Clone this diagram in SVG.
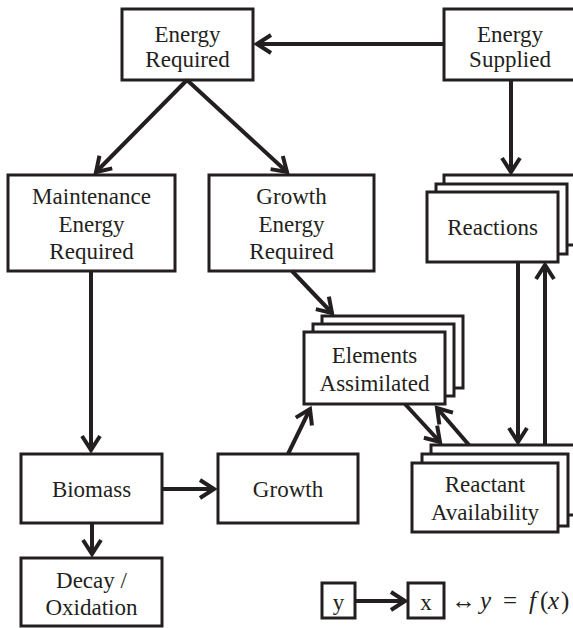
<svg xmlns="http://www.w3.org/2000/svg" width="573" height="628" viewBox="0 0 573 628">
<defs>
<style>
.box{fill:#fff;stroke:#231f20;stroke-width:3}
.t{font-family:"Liberation Serif","Times New Roman",serif;font-size:23px;fill:#231f20;text-anchor:middle}
.e{fill:none;stroke:#231f20;stroke-width:4;marker-end:url(#arr)}
.m{font-family:"Liberation Serif","DejaVu Serif",serif;font-size:25px;fill:#231f20}
</style>
<marker id="arr" markerUnits="userSpaceOnUse" markerWidth="40" markerHeight="40" viewBox="-20 -20 40 40" refX="0" refY="0" orient="auto">
<path d="M-14,-9 L0,0 L-14,9" fill="none" stroke="#231f20" stroke-width="4"/>
</marker>
</defs>
<rect width="573" height="628" fill="#fff"/>
<g id="energy-required"><rect class="box" x="122" y="9" width="131" height="71"/><text class="t" x="187.5" y="42">Energy</text><text class="t" x="187.5" y="67">Required</text></g>
<g id="energy-supplied"><rect class="box" x="444" y="9" width="132" height="71"/><text class="t" x="510" y="42">Energy</text><text class="t" x="510" y="67">Supplied</text></g>
<g id="maintenance"><rect class="box" x="8" y="175" width="167" height="96"/><text class="t" x="91.5" y="204">Maintenance</text><text class="t" x="91.5" y="232">Energy</text><text class="t" x="91.5" y="259">Required</text></g>
<g id="growth-energy"><rect class="box" x="209" y="175" width="165" height="96"/><text class="t" x="291.5" y="204">Growth</text><text class="t" x="291.5" y="232">Energy</text><text class="t" x="291.5" y="259">Required</text></g>
<g id="reactions"><rect class="box" x="444" y="175" width="131" height="70"/><rect class="box" x="436" y="184" width="131" height="70"/><rect class="box" x="427" y="192" width="131" height="70"/><text class="t" x="492.5" y="235">Reactions</text></g>
<g id="elements"><rect class="box" x="322" y="316" width="141" height="72"/><rect class="box" x="313" y="324" width="141" height="72"/><rect class="box" x="304" y="332" width="141" height="72"/><text class="t" x="374.5" y="363">Elements</text><text class="t" x="374.5" y="391">Assimilated</text></g>
<g id="reactant"><rect class="box" x="431" y="445" width="146" height="70"/><rect class="box" x="422" y="454" width="146" height="72"/><rect class="box" x="412" y="463" width="146" height="69"/><text class="t" x="485" y="492">Reactant</text><text class="t" x="485" y="520">Availability</text></g>
<g id="biomass"><rect class="box" x="21" y="454" width="141" height="69"/><text class="t" x="91.5" y="497">Biomass</text></g>
<g id="growth"><rect class="box" x="218" y="454" width="140" height="69"/><text class="t" x="288" y="497">Growth</text></g>
<g id="decay"><rect class="box" x="21" y="558" width="141" height="68"/><text class="t" x="91.5" y="588">Decay /</text><text class="t" x="91.5" y="615">Oxidation</text></g>
<g id="legend-y"><rect class="box" x="322" y="583" width="33" height="35"/><text class="t" x="338.5" y="610">y</text></g>
<g id="legend-x"><rect class="box" x="408" y="583" width="36" height="35"/><text class="t" x="426" y="610">x</text></g>
<text class="m" y="609"><tspan x="451" font-size="25">↔</tspan><tspan x="480" font-style="italic">y</tspan><tspan x="503">=</tspan><tspan x="529" font-style="italic">f</tspan><tspan x="540">(</tspan><tspan x="548" font-style="italic">x</tspan><tspan x="561">)</tspan></text>
<g id="connectors">
<line class="e" x1="444" y1="44" x2="257" y2="44"/>
<line class="e" x1="187" y1="80" x2="96" y2="172"/>
<line class="e" x1="187" y1="80" x2="287" y2="172"/>
<line class="e" x1="511" y1="80" x2="511" y2="172"/>
<line class="e" x1="91" y1="271" x2="91" y2="450"/>
<line class="e" x1="162" y1="489" x2="214" y2="489"/>
<line class="e" x1="92" y1="523" x2="92" y2="554"/>
<line class="e" x1="288" y1="454" x2="310" y2="409"/>
<line class="e" x1="292" y1="271" x2="332" y2="313"/>
<line class="e" x1="405" y1="404" x2="440" y2="442"/>
<line class="e" x1="469" y1="445" x2="437" y2="408"/>
<line class="e" x1="518" y1="262" x2="518" y2="442"/>
<line class="e" x1="545" y1="445" x2="545" y2="265"/>
<line class="e" x1="355" y1="601" x2="405" y2="601" stroke-width="5"/>
</g>
</svg>
